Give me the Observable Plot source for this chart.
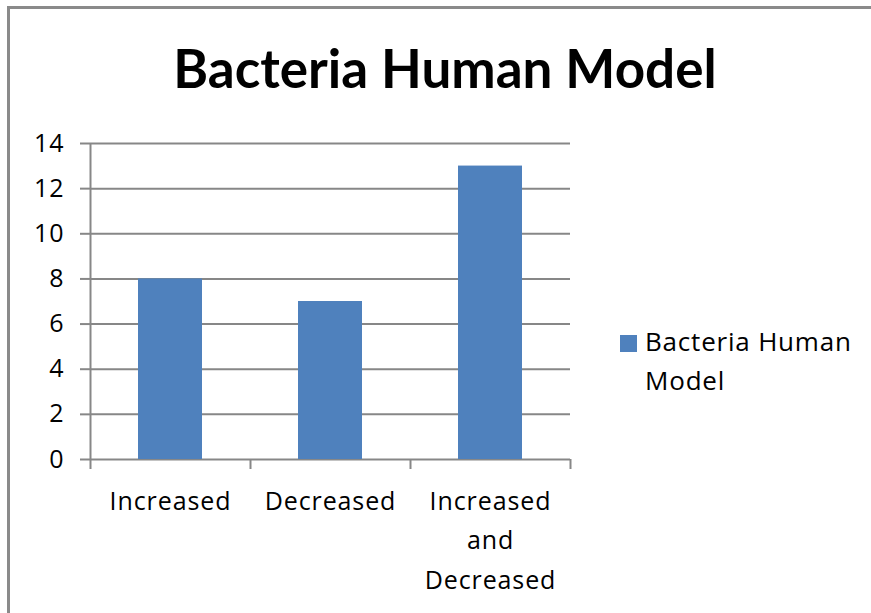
<!DOCTYPE html>
<html>
<head>
<meta charset="utf-8">
<script src="https://cdn.jsdelivr.net/npm/d3@7"></script>
<script src="https://cdn.jsdelivr.net/npm/@observablehq/plot@0.6"></script>
<style>
  html, body { margin: 0; padding: 0; background: #fff; overflow: hidden; }
  #wrap { position: relative; width: 871px; height: 613px; overflow: hidden; background: #fff; }
  #border { position: absolute; left: 7px; top: 6px; width: 900px; height: 700px;
            border-left: 3px solid #8a8a8a; border-top: 3px solid #8a8a8a; box-sizing: border-box; }
  #title { position: absolute; left: 0; width: 890px; top: 38px; text-align: center;
           font-family: Lato, sans-serif; font-weight: 700; font-size: 53px; line-height: 60px; color: #000; }
  #chart { position: absolute; left: 0; top: 0; }
  #legend { position: absolute; left: 620px; top: 322px; font-family: "Open Sans", sans-serif;
            font-size: 26px; line-height: 39px; color: #000; letter-spacing: 0.8px; }
  #legend .sw { position: absolute; left: 0; top: 13px; width: 17px; height: 17px; }
  #legend .lbl { position: absolute; left: 25px; top: 0; white-space: nowrap; }
</style>
</head>
<body>
<div id="wrap">
  <div id="border"></div>
  <div id="title"></div>
  <div id="chart"></div>
  <div id="legend"></div>
</div>
<script>
// ---- data ----
const categories = ["Increased", "Decreased", "Increased and Decreased"];
const values = [8, 7, 13];
const seriesName = "Bacteria Human Model";
const titleText = "Bacteria Human Model";
const yTicks = [0, 2, 4, 6, 8, 10, 12, 14];
const xTickLabels = ["Increased", "Decreased", "Increased\nand\nDecreased"];
const legendLines = ["Bacteria Human", "Model"];

// ---- style ----
const barColor = "#4F81BD";
const gridColor = "#878787";
const W = 871, H = 613;
const mL = 90, mR = 301, mT = 143, mB = 154;
const step = (W - mL - mR) / categories.length;
const yMin = yTicks[0], yMax = yTicks[yTicks.length - 1];

const data = categories.map((c, i) => ({category: c, value: values[i]}));

const chart = Plot.plot({
  width: W,
  height: H,
  marginLeft: mL,
  marginRight: mR,
  marginTop: mT,
  marginBottom: mB,
  style: {fontFamily: "'Open Sans', sans-serif", fontSize: "24px", color: "#000", background: "transparent"},
  x: {domain: categories, paddingInner: 0.6, paddingOuter: 0.3, label: null},
  y: {domain: [yMin, yMax], label: null},
  marks: [
    Plot.gridY(yTicks, {stroke: gridColor, strokeOpacity: 1, strokeWidth: 2}),
    Plot.axisY(yTicks, {tickSize: 10, tickPadding: 16, stroke: gridColor, strokeWidth: 2,
                        fontSize: 25, label: null, fill: "#000"}),
    Plot.barY(data, {x: "category", y: "value", fill: barColor}),
    Plot.ruleX([categories[0]], {dx: -step / 2, y1: yMax, y2: yMin,
                                  insetBottom: -10, stroke: gridColor, strokeWidth: 2}),
    Plot.ruleX(categories.slice(1), {dx: -step / 2, y1: yMin, y2: yMin, insetBottom: -10,
                                      stroke: gridColor, strokeWidth: 2}),
    Plot.ruleX([categories[categories.length - 1]], {dx: step / 2, y1: yMin, y2: yMin, insetBottom: -10,
                                                      stroke: gridColor, strokeWidth: 2}),
    Plot.axisX({tickSize: 0, tickPadding: 22, lineHeight: 1.58, fontSize: 25, fill: "#000",
                tickFormat: d => xTickLabels[categories.indexOf(d)], label: null})
  ]
});
chart.style.letterSpacing = "0.9px";
document.getElementById("chart").appendChild(chart);

document.getElementById("title").textContent = titleText;

const lg = document.getElementById("legend");
const sw = document.createElement("div");
sw.className = "sw";
sw.style.background = barColor;
lg.appendChild(sw);
const lbl = document.createElement("div");
lbl.className = "lbl";
lbl.setAttribute("title", seriesName);
lbl.innerHTML = legendLines.join("<br>");
lg.appendChild(lbl);
</script>
</body>
</html>
